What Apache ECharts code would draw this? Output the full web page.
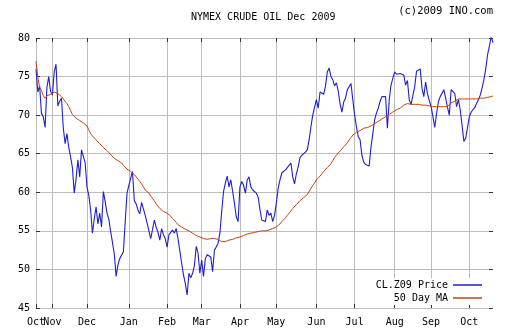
<!DOCTYPE html>
<html>
<head>
<meta charset="utf-8">
<script src="https://cdn.jsdelivr.net/npm/echarts@6/dist/echarts.min.js"></script>
<style>
html,body{margin:0;padding:0;background:#fff;}
#chart{width:512px;height:335px;}
</style>
</head>
<body>
<div id="chart"></div>
<script>
const months = ['Oct','Nov','Dec','Jan','Feb','Mar','Apr','May','Jun','Jul','Aug','Sep','Oct'];
const tradingDays = [9,19,23,21,19,21,20,22,21,22,20,21,14];

// Y axis ticks
const yMin = 45, yMax = 80, yStep = 5;

// CL.Z09 daily price
const price = [
76.0,73.0,73.8,70.2,69.8,68.4,73.6,75.0,73.1,72.6,
75.6,76.6,71.2,71.8,72.2,68.3,66.3,67.6,65.8,64.6,
63.2,59.9,61.7,64.2,62.0,65.5,65.5,63.8,60.7,59.6,
57.7,54.7,56.6,58.1,55.9,57.3,55.5,60.1,58.8,57.3,
56.5,54.9,53.5,52.0,49.1,50.6,51.4,51.6,52.3,56.2,
59.9,60.9,61.8,62.7,58.9,58.5,57.7,57.2,58.7,58.5,
57.0,56.0,55.0,54.0,53.8,56.4,55.5,54.8,53.8,55.3,
54.5,54.0,52.9,54.5,54.8,55.1,54.7,55.3,54.0,52.4,
50.8,49.3,48.2,46.7,49.5,48.9,49.5,50.5,53.0,52.1,
49.5,51.2,49.1,51.4,51.9,52.1,51.6,49.7,52.5,52.9,
53.4,54.7,57.5,60.1,61.2,62.1,60.7,61.6,60.1,58.6,
56.8,56.2,60.7,61.4,60.9,59.9,61.6,62.0,60.7,60.3,
60.1,59.9,59.4,57.8,56.4,56.4,56.2,57.7,57.0,57.3,
56.2,57.0,58.6,60.5,61.6,62.5,62.7,62.9,63.1,63.5,
63.8,62.0,61.1,62.4,63.3,64.5,64.8,65.0,65.2,65.5,
66.8,68.5,70.0,71.0,72.0,70.9,73.0,72.8,72.7,73.8,
75.6,76.1,75.0,74.6,73.8,74.2,73.1,71.5,70.4,71.7,
72.2,73.3,73.7,74.1,72.0,70.0,68.5,67.2,66.8,64.8,
63.9,63.6,63.5,63.4,65.9,67.6,69.4,70.3,70.9,71.8,
72.4,72.6,72.4,68.3,72.0,73.9,74.8,75.6,75.3,75.3,
75.4,75.3,75.2,73.9,74.5,72.0,71.4,71.4,73.7,75.7,
75.9,76.0,73.5,72.4,74.3,72.8,71.9,71.1,69.8,68.4,
70.2,71.7,72.4,72.6,73.3,72.2,71.0,70.0,73.3,73.5,
72.8,71.1,72.0,70.7,68.7,66.6,67.0,67.2,69.8,70.4,
70.7,71.0,71.5,72.0,72.6,73.5,74.6,76.0,77.8,78.9,
80.2,79.4
];

// 50 day moving average
const ma50 = [
77.0,74.9,73.6,73.2,72.5,72.2,72.5,72.6,72.7,72.8,
73.0,72.9,72.8,72.6,72.4,72.1,71.8,71.5,71.1,70.6,
70.1,69.9,69.6,69.5,69.3,69.2,69.0,68.9,68.6,68.1,
67.6,67.3,67.1,66.8,66.6,66.3,66.1,65.8,65.6,65.4,
65.2,64.9,64.7,64.4,64.3,64.1,63.9,63.8,63.5,63.3,
63.0,62.9,62.7,62.5,62.3,62.0,61.7,61.4,61.1,60.7,
60.3,60.1,59.9,59.5,59.2,58.9,58.5,58.2,57.9,57.7,
57.5,57.4,57.3,57.1,56.9,56.6,56.4,56.1,55.8,55.6,
55.5,55.4,55.2,55.1,55.0,54.8,54.7,54.6,54.4,54.3,
54.2,54.1,54.0,53.9,53.9,54.0,54.0,54.0,54.0,54.0,
53.9,53.8,53.6,53.5,53.6,53.7,53.8,53.9,53.9,54.0,
54.1,54.2,54.2,54.3,54.4,54.5,54.6,54.7,54.7,54.8,
54.8,54.9,54.9,54.9,55.0,55.0,55.0,55.1,55.1,55.2,
55.3,55.4,55.5,55.7,55.9,56.2,56.4,56.7,57.0,57.3,
57.6,57.9,58.1,58.4,58.6,58.9,59.1,59.3,59.5,59.7,
59.9,60.5,60.9,61.2,61.6,61.8,62.1,62.4,62.7,62.9,
63.2,63.4,63.7,64.1,64.5,64.8,65.1,65.3,65.6,65.9,
66.1,66.4,66.8,67.1,67.4,67.6,67.8,67.9,68.0,68.2,
68.3,68.3,68.4,68.5,68.6,68.7,68.9,69.1,69.2,69.4,
69.5,69.6,69.8,70.0,70.1,70.3,70.4,70.6,70.7,70.8,
70.9,71.1,71.3,71.5,71.5,71.5,71.4,71.4,71.4,71.4,
71.4,71.4,71.3,71.3,71.3,71.2,71.2,71.2,71.1,71.1,
71.1,71.1,71.1,71.1,71.1,71.1,71.1,71.3,71.6,71.8,
71.8,72.0,72.1,72.2,72.1,72.1,72.1,72.1,72.1,72.1,
72.1,72.1,72.1,72.1,72.2,72.2,72.2,72.2,72.3,72.3,
72.4,72.5
];

// Build categories (one per trading day) and the set of month-start indices
const categories = [];
const monthStart = {};
months.forEach(function (m, mi) {
  for (let d = 0; d < tradingDays[mi]; d++) {
    if (d === 0) monthStart[categories.length] = m;
    categories.push(m + '|' + mi + '|' + d);
  }
});
const isMonthStart = function (idx) { return monthStart[idx] !== undefined; };
const isLaterMonthStart = function (idx) { return idx > 0 && monthStart[idx] !== undefined; };
const isFirst = function (idx) { return idx === 0; };
const monthName = function (v) { return v.split('|')[0]; };

const FONT = 'DejaVu Sans Mono';
const GRID = '#bdbdbd';
const TICK = '#333333';
const labelStyle = {fontFamily: FONT, fontSize: 10, color: '#000'};

const chart = echarts.init(document.getElementById('chart'), null, {renderer: 'canvas'});
chart.setOption({
  animation: false,
  backgroundColor: '#ffffff',
  title: [
    {text: 'NYMEX CRUDE OIL Dec 2009', left: 191, top: 12, padding: 0,
     textStyle: {fontFamily: FONT, fontSize: 10, fontWeight: 'normal', color: '#000'}},
    {text: '(c)2009 INO.com', right: 19, top: 6, padding: 0,
     textStyle: {fontFamily: FONT, fontSize: 10.5, fontWeight: 'normal', color: '#000'}}
  ],
  legend: {
    orient: 'vertical', right: 30, top: 278, align: 'right',
    itemWidth: 29, itemHeight: 1.5, itemGap: 1, icon: 'rect',
    padding: [1, 0, 1, 20], backgroundColor: '#ffffff',
    textStyle: {fontFamily: FONT, fontSize: 10, color: '#000', lineHeight: 12},
    data: ['CL.Z09 Price', '50 Day MA']
  },
  grid: {left: 36, right: 19, top: 38, bottom: 27, show: false},
  xAxis: [
    {type: 'category', data: categories, boundaryGap: false, position: 'bottom',
     axisLine: {show: false},
     axisTick: {show: true, inside: true, length: 4, interval: isMonthStart, lineStyle: {color: TICK}},
     axisLabel: Object.assign({show: true, interval: isLaterMonthStart, margin: 9,
       showMinLabel: true, showMaxLabel: true, formatter: monthName}, labelStyle),
     splitLine: {show: true, interval: isMonthStart, lineStyle: {color: GRID, width: 1}}},
    {type: 'category', data: categories, boundaryGap: false, position: 'top',
     axisLine: {show: false},
     axisTick: {show: true, inside: true, length: 4, interval: isMonthStart, lineStyle: {color: TICK}},
     axisLabel: {show: false}, splitLine: {show: false}},
    {type: 'category', data: categories, boundaryGap: false, position: 'bottom', offset: 0,
     axisLine: {show: false}, axisTick: {show: false}, splitLine: {show: false},
     axisLabel: Object.assign({show: true, interval: isFirst, margin: 9,
       showMinLabel: true, showMaxLabel: true, formatter: monthName}, labelStyle)}
  ],
  yAxis: [
    {type: 'value', min: yMin, max: yMax, interval: yStep, position: 'left',
     axisLine: {show: false},
     axisTick: {show: true, inside: true, length: 4, lineStyle: {color: TICK}},
     axisLabel: Object.assign({margin: 6}, labelStyle),
     splitLine: {show: true, lineStyle: {color: GRID, width: 1}}},
    {type: 'value', min: yMin, max: yMax, interval: yStep, position: 'right',
     axisLine: {show: false},
     axisTick: {show: true, inside: true, length: 4, lineStyle: {color: TICK}},
     axisLabel: {show: false}, splitLine: {show: false}}
  ],
  series: [
    {name: 'CL.Z09 Price', type: 'line', data: price, showSymbol: false, symbol: 'none',
     color: '#2020c8', lineStyle: {width: 1.1, color: '#2020c8'}, z: 3},
    {name: '50 Day MA', type: 'line', data: ma50, showSymbol: false, symbol: 'none',
     color: '#c44410', lineStyle: {width: 1, color: '#c44410'}, z: 4}
  ]
});
</script>
</body>
</html>
